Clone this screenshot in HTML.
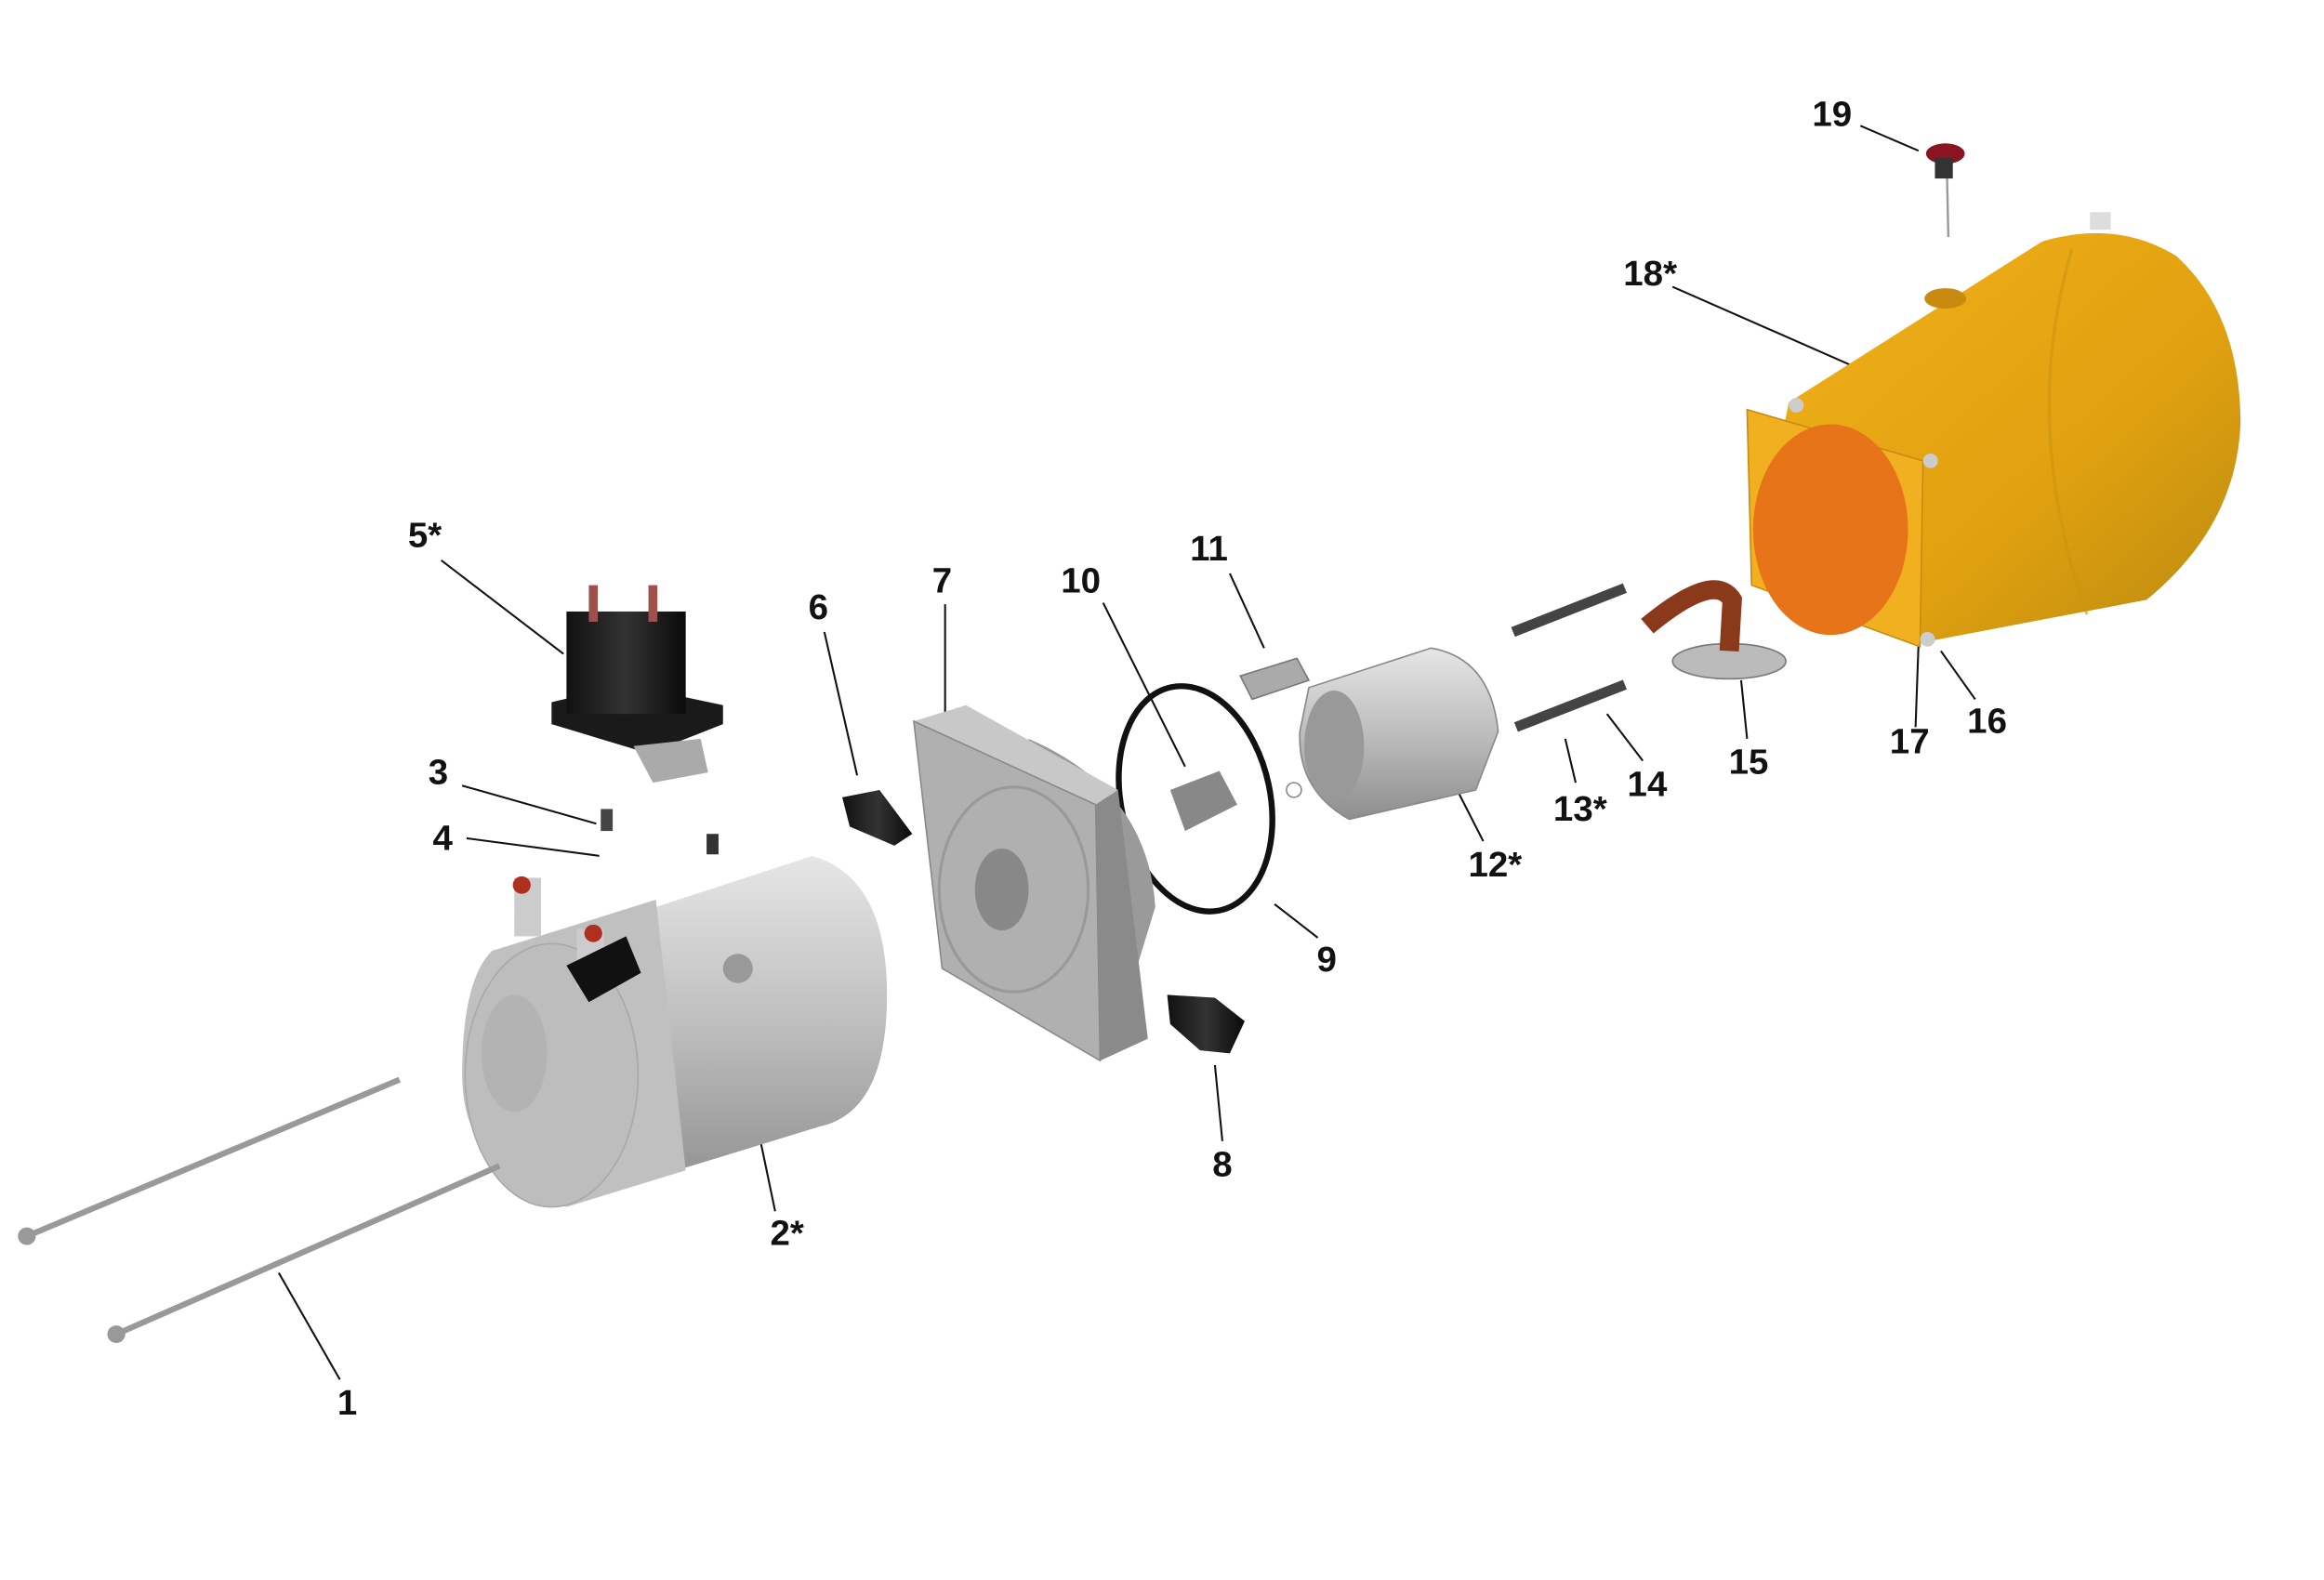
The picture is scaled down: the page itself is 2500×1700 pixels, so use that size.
<!DOCTYPE html>
<html><head><meta charset="utf-8"><style>
html,body{margin:0;padding:0;background:#fff;width:2500px;height:1700px;overflow:hidden}
svg{display:block}
text{font-family:"Liberation Sans",sans-serif;font-weight:bold;font-size:24px;fill:#111}
</style></head><body>
<svg width="2500" height="1700" viewBox="0 0 1559 1080" preserveAspectRatio="none" xmlns="http://www.w3.org/2000/svg">
<defs>
<linearGradient id="silver" x1="0" y1="0" x2="0" y2="1"><stop offset="0" stop-color="#e6e6e6"/><stop offset=".5" stop-color="#bdbdbd"/><stop offset="1" stop-color="#8e8e8e"/></linearGradient>
<linearGradient id="yel" x1="0" y1="0" x2="1" y2="1"><stop offset="0" stop-color="#f2b21a"/><stop offset=".6" stop-color="#e0a010"/><stop offset="1" stop-color="#b98a10"/></linearGradient>
<linearGradient id="blk" x1="0" y1="0" x2="1" y2="0"><stop offset="0" stop-color="#111"/><stop offset=".5" stop-color="#333"/><stop offset="1" stop-color="#0a0a0a"/></linearGradient>
</defs>
<g stroke="#111" stroke-width="1.3" fill="none">
<line x1="1248" y1="86" x2="1287" y2="103"/>
<line x1="1122" y1="196" x2="1247" y2="252"/>
<line x1="1285" y1="497" x2="1287" y2="440"/>
<line x1="1325" y1="478" x2="1302" y2="445"/>
<line x1="1172" y1="505" x2="1168" y2="465"/>
<line x1="1102" y1="520" x2="1078" y2="488"/>
<line x1="1057" y1="535" x2="1050" y2="505"/>
<line x1="995" y1="575" x2="960" y2="505"/>
<line x1="825" y1="392" x2="848" y2="443"/>
<line x1="740" y1="412" x2="795" y2="524"/>
<line x1="884" y1="641" x2="855" y2="618"/>
<line x1="634" y1="413" x2="634" y2="493"/>
<line x1="820" y1="780" x2="815" y2="728"/>
<line x1="553" y1="432" x2="575" y2="530"/>
<line x1="296" y1="383" x2="378" y2="447"/>
<line x1="310" y1="537" x2="400" y2="563"/>
<line x1="313" y1="573" x2="402" y2="585"/>
<line x1="520" y1="828" x2="503" y2="745"/>
<line x1="228" y1="943" x2="187" y2="870"/>
</g>
<!-- tank -->
<path d="M1200 275 L1370 165 Q1420 150 1460 175 Q1503 215 1503 290 Q1500 360 1440 410 L1285 440 L1195 300 Z" fill="url(#yel)"/>
<path d="M1390 170 Q1355 290 1400 420" stroke="#c99410" stroke-width="2" fill="none" opacity=".6"/>
<polygon points="1172,280 1290,315 1288,442 1175,400" fill="#f0b020" stroke="#c88a10"/>
<ellipse cx="1228" cy="362" rx="52" ry="72" fill="#e8741a"/>
<ellipse cx="1305" cy="204" rx="14" ry="7" fill="#c98a10"/>
<rect x="1402" y="145" width="14" height="12" fill="#ddd"/>
<circle cx="1205" cy="277" r="5" fill="#ccc"/>
<circle cx="1295" cy="315" r="5" fill="#ccc"/>
<circle cx="1293" cy="437" r="5" fill="#ccc"/>
<!-- 19 -->
<line x1="1306" y1="115" x2="1307" y2="162" stroke="#999" stroke-width="1.5"/>
<ellipse cx="1305" cy="105" rx="13" ry="7" fill="#8a1520"/>
<rect x="1298" y="108" width="12" height="14" fill="#333"/>
<!-- 15 -->
<ellipse cx="1160" cy="452" rx="38" ry="12" fill="#bbb" stroke="#777"/>
<path d="M1105 428 Q1150 390 1162 410 L1160 445" stroke="#8a3a1a" stroke-width="13" fill="none"/>
<!-- bolts 13 -->
<line x1="1015" y1="432" x2="1090" y2="402" stroke="#444" stroke-width="7"/>
<line x1="1017" y1="497" x2="1090" y2="468" stroke="#444" stroke-width="7"/>
<!-- pump 12 -->
<path d="M878 470 L960 443 Q1000 450 1005 500 L990 540 L905 560 Q870 540 872 500 Z" fill="url(#silver)" stroke="#888"/>
<ellipse cx="895" cy="510" rx="20" ry="38" fill="#999"/>
<circle cx="868" cy="540" r="5" fill="none" stroke="#888"/>
<!-- 11 -->
<path d="M832 462 L870 450 L878 465 L840 478 Z" fill="#aaa" stroke="#777"/>
<!-- 10 -->
<path d="M785 540 L818 527 L830 550 L795 568 Z" fill="#888"/>
<!-- 9 oring -->
<ellipse cx="802" cy="546" rx="50" ry="78" transform="rotate(-12 802 546)" fill="none" stroke="#111" stroke-width="4"/>
<!-- 7 block -->
<path d="M690 505 Q770 540 775 620 L760 670 L700 640 Z" fill="#9a9a9a"/>
<polygon points="613,493 648,482 750,540 735,550" fill="#c8c8c8"/>
<polygon points="613,493 735,550 738,725 632,662" fill="#b0b0b0" stroke="#888"/>
<polygon points="735,550 750,540 770,710 738,725" fill="#8a8a8a"/>
<ellipse cx="672" cy="608" rx="18" ry="28" fill="#888"/>
<ellipse cx="680" cy="608" rx="50" ry="70" fill="none" stroke="#999" stroke-width="2"/>
<!-- 8 -->
<path d="M783 680 L815 682 L835 698 L825 720 L805 718 L785 700 Z" fill="url(#blk)"/>
<!-- 6 -->
<path d="M565 545 L590 540 L612 570 L600 578 L570 565 Z" fill="url(#blk)"/>
<!-- 5 solenoid -->
<polygon points="370,480 420,468 485,482 485,495 435,515 370,495" fill="#1a1a1a"/>
<rect x="380" y="418" width="80" height="70" fill="url(#blk)"/>
<rect x="395" y="400" width="6" height="25" fill="#a0504a"/>
<rect x="435" y="400" width="6" height="25" fill="#a0504a"/>
<polygon points="425,510 470,505 475,528 438,535" fill="#aaa"/>
<!-- 3,4 -->
<rect x="403" y="553" width="8" height="15" fill="#444"/>
<rect x="474" y="570" width="8" height="14" fill="#333"/>
<!-- motor -->
<path d="M380 640 L545 585 Q595 600 595 680 Q595 760 550 770 L390 820 Z" fill="url(#silver)"/>
<path d="M330 650 L440 615 L460 800 L380 825 Q310 800 310 735 Q310 670 330 650 Z" fill="#c0c0c0"/>
<ellipse cx="370" cy="735" rx="58" ry="90" fill="#bdbdbd" stroke="#a8a8a8"/>
<ellipse cx="345" cy="720" rx="22" ry="40" fill="#b3b3b3"/>
<circle cx="495" cy="662" r="10" fill="#999"/>
<rect x="345" y="600" width="18" height="40" fill="#ccc"/>
<rect x="387" y="635" width="18" height="40" fill="#ccc"/>
<polygon points="380,660 420,640 430,665 395,685" fill="#111"/>
<circle cx="350" cy="605" r="6" fill="#b03020"/>
<circle cx="398" cy="638" r="6" fill="#b03020"/>
<!-- rods -->
<line x1="18" y1="845" x2="268" y2="738" stroke="#999" stroke-width="4"/>
<line x1="78" y1="912" x2="335" y2="797" stroke="#999" stroke-width="4"/>
<circle cx="18" cy="845" r="6" fill="#999"/>
<circle cx="78" cy="912" r="6" fill="#999"/>
<!-- labels -->
<g text-anchor="middle">
<text x="1229" y="86">19</text>
<text x="1107" y="195">18*</text>
<text x="1281" y="515">17</text>
<text x="1333" y="501">16</text>
<text x="1173" y="529">15</text>
<text x="1105" y="544">14</text>
<text x="1060" y="561">13*</text>
<text x="1003" y="599">12*</text>
<text x="811" y="383">11</text>
<text x="725" y="405">10</text>
<text x="890" y="664">9</text>
<text x="632" y="405">7</text>
<text x="820" y="804">8</text>
<text x="549" y="423">6</text>
<text x="285" y="374">5*</text>
<text x="294" y="536">3</text>
<text x="297" y="581">4</text>
<text x="528" y="851">2*</text>
<text x="233" y="967">1</text>
</g>
</svg>
</body></html>
